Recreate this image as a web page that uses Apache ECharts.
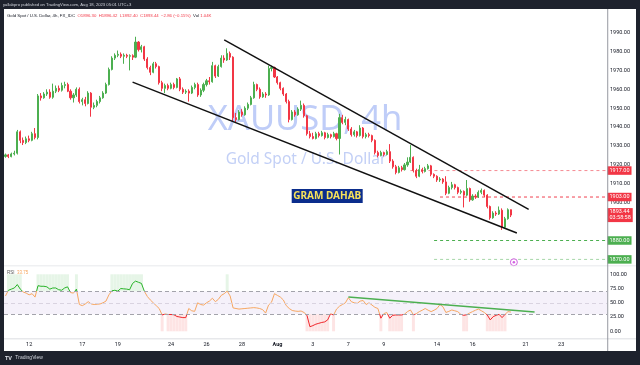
<!DOCTYPE html>
<html><head><meta charset="utf-8">
<script src="https://cdn.jsdelivr.net/npm/echarts/dist/echarts.min.js"></script>
<style>html,body{margin:0;padding:0;background:#fff}#c{width:640px;height:365px}</style>
</head><body><div id="c"></div>
<script>
// ---- data (XAUUSD 4h) ----
const opens=[1924.5,1925.3,1924.4,1925.8,1926.2,1937.5,1933.0,1931.8,1933.8,1933.0,
1936.5,1934.5,1956.5,1955.5,1957.5,1958.5,1955.8,1959.0,1960.5,1959.5,
1962.0,1962.5,1959.0,1955.5,1957.0,1960.0,1953.5,1954.5,1952.5,1958.0,
1950.5,1951.5,1953.5,1955.5,1958.0,1962.5,1970.5,1976.5,1978.0,1978.5,
1977.5,1978.0,1977.5,1977.8,1977.0,1985.0,1981.0,1982.5,1976.0,1971.5,
1969.0,1973.5,1972.0,1963.5,1960.5,1962.0,1960.5,1962.5,1961.0,1965.5,
1960.0,1958.5,1959.0,1958.0,1961.0,1962.5,1957.0,1959.5,1962.5,1964.5,
1964.0,1972.5,1967.0,1972.0,1976.5,1975.5,1979.0,1977.0,1945.0,1944.0,
1948.0,1946.5,1950.0,1952.0,1955.5,1962.5,1960.0,1956.0,1957.5,1957.0,
1971.0,1971.5,1966.5,1963.5,1960.5,1957.5,1953.5,1944.0,1948.0,1946.5,
1949.5,1951.5,1946.0,1936.5,1935.0,1934.0,1936.5,1935.5,1937.0,1934.5,
1936.0,1935.0,1936.5,1934.0,1945.0,1942.5,1944.0,1939.0,1936.0,1937.5,
1935.5,1939.5,1935.0,1936.0,1935.5,1933.0,1926.5,1925.0,1926.5,1925.5,
1927.0,1922.0,1919.0,1916.0,1918.5,1917.5,1920.0,1921.5,1924.0,1917.0,
1914.0,1917.5,1916.5,1918.0,1919.5,1915.0,1914.0,1912.0,1912.5,1911.0,
1905.0,1908.0,1909.5,1908.0,1905.5,1906.0,1904.0,1907.5,1901.5,1903.5,
1903.0,1905.5,1906.5,1904.0,1898.0,1892.0,1894.5,1894.0,1896.0,1887.0,
1891.5,1896.3];
const closes=[1925.3,1924.4,1925.8,1926.2,1937.5,1933.0,1931.8,1933.8,1933.0,1936.5,
1934.5,1956.5,1955.5,1957.5,1958.5,1955.8,1959.0,1960.5,1959.5,1962.0,
1962.5,1959.0,1955.5,1957.0,1960.0,1953.5,1954.5,1952.5,1958.0,1950.5,
1951.5,1953.5,1955.5,1958.0,1962.5,1970.5,1976.5,1978.0,1978.5,1977.5,
1978.0,1977.5,1977.8,1977.0,1985.0,1981.0,1982.5,1976.0,1971.5,1969.0,
1973.5,1972.0,1963.5,1960.5,1962.0,1960.5,1962.5,1961.0,1965.5,1960.0,
1958.5,1959.0,1958.0,1961.0,1962.5,1957.0,1959.5,1962.5,1964.5,1964.0,
1972.5,1967.0,1972.0,1976.5,1975.5,1979.0,1977.0,1945.0,1944.0,1948.0,
1946.5,1950.0,1952.0,1955.5,1962.5,1960.0,1956.0,1957.5,1957.0,1971.0,
1971.5,1966.5,1963.5,1960.5,1957.5,1953.5,1944.0,1948.0,1946.5,1949.5,
1951.5,1946.0,1936.5,1935.0,1934.0,1936.5,1935.5,1937.0,1934.5,1936.0,
1935.0,1936.5,1934.0,1945.0,1942.5,1944.0,1939.0,1936.0,1937.5,1935.5,
1939.5,1935.0,1936.0,1935.5,1933.0,1926.5,1925.0,1926.5,1925.5,1927.0,
1922.0,1919.0,1916.0,1918.5,1917.5,1920.0,1921.5,1924.0,1917.0,1914.0,
1917.5,1916.5,1918.0,1919.5,1915.0,1914.0,1912.0,1912.5,1911.0,1905.0,
1908.0,1909.5,1908.0,1905.5,1906.0,1904.0,1907.5,1901.5,1903.5,1903.0,
1905.5,1906.5,1904.0,1898.0,1892.0,1894.5,1894.0,1896.0,1887.0,1891.5,
1896.3,1893.44];
const lows=[1923.8,1923.6,1924.0,1925.0,1925.5,1931.5,1930.5,1931.0,1932.0,1932.5,
1933.5,1933.5,1954.0,1955.0,1956.5,1955.0,1955.0,1958.0,1958.5,1958.8,
1960.5,1958.5,1954.5,1953.0,1956.0,1952.5,1951.5,1951.0,1952.0,1945.5,
1949.5,1950.5,1952.5,1955.0,1957.5,1962.0,1970.0,1975.5,1977.0,1976.5,
1973.5,1976.5,1970.0,1975.5,1976.5,1980.0,1979.5,1975.0,1970.5,1967.5,
1968.5,1971.0,1962.5,1959.0,1958.0,1959.5,1960.0,1960.0,1960.5,1959.0,
1957.5,1957.5,1953.5,1957.5,1960.0,1956.0,1956.0,1958.5,1961.5,1962.5,
1963.5,1966.0,1966.5,1971.5,1974.0,1975.0,1975.5,1943.0,1942.5,1943.5,
1945.5,1946.0,1949.0,1951.5,1955.0,1959.0,1955.0,1955.5,1955.5,1956.5,
1969.5,1966.0,1962.5,1959.5,1956.5,1952.5,1942.5,1943.5,1945.5,1946.0,
1948.5,1945.0,1935.5,1934.0,1933.5,1933.5,1934.5,1935.0,1933.5,1934.0,
1934.0,1934.5,1933.0,1925.5,1941.5,1941.0,1938.0,1935.0,1935.0,1934.5,
1935.0,1934.0,1934.0,1934.5,1932.0,1925.5,1924.0,1924.5,1924.5,1925.0,
1921.0,1918.0,1915.0,1915.5,1916.5,1917.0,1919.0,1921.0,1916.0,1913.0,
1913.5,1915.5,1916.0,1917.5,1914.0,1913.0,1911.0,1911.0,1910.0,1904.0,
1904.5,1907.0,1907.0,1904.5,1904.5,1897.5,1903.5,1900.5,1901.0,1902.0,
1902.5,1904.5,1903.0,1897.0,1891.0,1891.5,1893.0,1893.5,1885.6,1886.5,
1891.0,1892.4];
const highs=[1926.0,1925.8,1926.5,1927.5,1938.5,1938.2,1934.5,1935.0,1935.5,1937.5,
1939.5,1957.5,1958.0,1958.5,1960.0,1960.0,1963.0,1962.0,1962.0,1963.5,
1964.0,1963.5,1960.0,1958.0,1961.0,1961.0,1955.5,1956.0,1959.0,1958.5,
1953.0,1954.5,1956.5,1959.0,1963.5,1971.5,1977.5,1979.0,1980.5,1979.5,
1979.0,1978.8,1978.5,1978.5,1987.8,1985.5,1983.5,1983.0,1977.0,1972.5,
1974.5,1974.5,1972.5,1964.5,1963.0,1963.0,1963.5,1963.5,1966.0,1966.5,
1961.0,1960.0,1960.0,1962.0,1963.5,1963.5,1960.5,1963.5,1965.5,1966.5,
1974.5,1973.0,1973.0,1978.0,1978.0,1981.7,1980.0,1977.5,1947.5,1949.0,
1949.5,1951.0,1953.0,1956.5,1964.0,1963.0,1961.0,1958.5,1958.5,1972.5,
1972.5,1972.0,1967.0,1964.0,1961.0,1958.0,1954.5,1949.0,1949.0,1950.5,
1954.0,1952.5,1946.5,1938.0,1937.0,1937.5,1937.5,1938.0,1937.5,1937.0,
1936.5,1937.5,1937.0,1947.0,1946.5,1945.5,1944.5,1940.0,1938.5,1938.0,
1941.0,1940.0,1937.0,1937.0,1936.0,1933.5,1927.5,1927.5,1927.0,1928.0,
1931.0,1923.0,1920.0,1919.5,1919.5,1921.0,1924.0,1930.5,1924.5,1918.0,
1920.0,1918.5,1919.0,1920.5,1920.0,1915.5,1914.5,1913.5,1913.0,1914.0,
1909.0,1911.0,1910.0,1908.5,1907.0,1906.5,1912.0,1908.0,1904.5,1904.5,
1906.5,1907.5,1907.0,1904.5,1898.5,1895.5,1895.5,1898.0,1897.0,1892.5,
1897.0,1896.42];
const rsiValues=[62,72,74,76,82,74,69,67,64,66,
60,80,79,79,78,74,76,76,73,72,
76,78,68,67,74,47,45,48,52,48,
47,47.5,48,50,53,64,71,72,70.5,75,
74.5,74,73,84,88,86,84,70,61,55,
50,45,40,28.6,30.5,29.5,29.5,29,26,25,
24,24,40,36,35,50,47,46,50,53,
58,52,56,63,66,70.5,62,41,40,39,
39.5,40,40.5,41,41.5,41,40,38,32,46,
51,66,63,60,55,45,40,36.5,35.5,35,
35.6,33,28,8,10,12.5,14,15.5,16.5,20,
31,28.6,39,44,47,50,59,52,50,49,
53,54,47,50,46,42,40,23,31,33,
23,28,28.6,28.6,28.6,30,34.5,37.4,29,31,
34.5,37,40,37,34.5,37,40,47,43,33,
35,37.4,36,34.5,30,28,29,32,34.5,37,
39,36,33,28.6,20,25.7,28,29.7,24,29.7,
34.5,33.75];
const futureBars=32;
const dayTickLabels=['12','17','19','24','26','28','Aug','3','7','9','14','16','21','23'];
const dayTickOffsets=[0,3,5,8,10,12,14,16,18,20,23,25,28,30];
const firstTickBar=8, barsPerDay=6;
const upperTrend=[[74,1986.2],[177,1896.5]];
const lowerTrend=[[43,1963.8],[173,1884.0]];
const rsiTrend=[[116,60.2],[179,33.9]];
const rayLevels=[1917,1903,1880,1870];
const rayStartBars=[137,147,145,145];
const eventMarker=[172,1868.5];
const countdownText='03:58:58';
const volumeText='1.04K';
const rsiLevels=[70,50,30];

// ---- build ----
const N=opens.length, total=N+futureBars, last=N-1;
const cats=Array.from({length:total},(_,i)=>'b'+i);
const tickMap={};
dayTickOffsets.forEach((d,k)=>{tickMap[firstTickBar+d*barsPerDay]=dayTickLabels[k];});
const candles=opens.map((o,i)=>[o,closes[i],lows[i],highs[i]]);
const chg=closes[last]-closes[last-1];
const pct=chg/closes[last-1]*100;
const fmtS=v=>(v<0?'\u2212':'+')+Math.abs(v).toFixed(2);

const rayLine=['#f58a93','#f0404f','#4caf50','#a5d6a7'];
const rayBox=['#f23645','#f23645','#4caf50','#4caf50'];
const axisFont={fontSize:5.5,color:'#131722',fontFamily:'Roboto, "Noto Sans", sans-serif'};
const clear='rgba(0,0,0,0)';

// price-scale boxes (labels only; the lines themselves are drawn as series below)
const priceLabels=rayLevels.map((lv,k)=>[
 {coord:[rayStartBars[k],lv],lineStyle:{color:clear,width:1},
  label:{show:true,position:'end',distance:2,formatter:lv.toFixed(2),backgroundColor:rayBox[k],color:'#fff',fontSize:5.5,padding:[1.5,2,1,2],fontFamily:'Roboto, sans-serif'}},
 {coord:[total-1,lv]}]);
priceLabels.push([
 {coord:[last,closes[last]],lineStyle:{color:clear,width:1},
  label:{show:true,position:'end',distance:2,formatter:closes[last].toFixed(2)+'\n'+countdownText,backgroundColor:'#f23645',color:'#fff',fontSize:5.5,lineHeight:6,padding:[1,2,1,2],fontFamily:'Roboto, sans-serif'}},
 {coord:[total-1,closes[last]]}]);

const raySeries=rayLevels.map((lv,k)=>({
 type:'line',xAxisIndex:0,yAxisIndex:0,symbol:'none',silent:true,z:3,
 data:[[rayStartBars[k],lv],[total-1,lv]],
 lineStyle:{color:rayLine[k],type:[3,3],width:1}}));

const zoneBase=rsiValues.map(v=>v>70?70:(v<30?0:'-'));
const zoneTop=rsiValues.map(v=>v>70?{value:30,itemStyle:{color:'#e6f5e7'}}:(v<30?{value:30,itemStyle:{color:'#fde4e4'}}:'-'));

const chart=echarts.init(document.getElementById('c'),null,{width:640,height:365});
chart.setOption({
 animation:false,
 backgroundColor:'#ffffff',
 textStyle:{fontFamily:'Roboto, "Noto Sans", sans-serif'},
 grid:[
  {left:4,right:33,top:-5.2,height:283.5,outerBoundsMode:'none'},
  {left:4,right:33,top:274.3,height:57,outerBoundsMode:'none'}
 ],
 xAxis:[
  {type:'category',gridIndex:0,data:cats,boundaryGap:true,axisLine:{show:false},axisTick:{show:false},axisLabel:{show:false},splitLine:{show:false}},
  {type:'category',gridIndex:1,data:cats,boundaryGap:true,offset:7.7,axisLine:{show:false},axisTick:{show:false},splitLine:{show:false},
   axisLabel:Object.assign({},axisFont,{margin:3,interval:(idx)=>tickMap[idx]!==undefined,
    formatter:(v,idx)=>{const t=tickMap[idx]||'';return t==='Aug'?'{b|Aug}':t;},
    rich:{b:{fontWeight:'bold',fontSize:5.5,color:'#131722'}}})}
 ],
 yAxis:[
  {type:'value',gridIndex:0,position:'right',min:1860,max:2010,interval:10,axisLine:{show:false},axisTick:{show:false},splitLine:{show:false},
   axisLabel:Object.assign({},axisFont,{margin:3,formatter:v=>(v>=1900&&v<=1990)?v.toFixed(2):''})},
  {type:'value',gridIndex:1,position:'right',min:0,max:100,interval:25,axisLine:{show:false},axisTick:{show:false},splitLine:{show:false},
   axisLabel:Object.assign({},axisFont,{margin:3,formatter:v=>v.toFixed(2)})}
 ],
 visualMap:{show:false,type:'piecewise',seriesIndex:6,dimension:1,
  pieces:[{lt:30,color:'#f0262b'},{gte:30,lte:70,color:'#f6a660'},{gt:70,color:'#27b327'}]},
 series:[
  {type:'candlestick',xAxisIndex:0,yAxisIndex:0,data:candles,barWidth:1.6,z:4,
   itemStyle:{color:'#4caf50',color0:'#f23645',borderColor:'#4caf50',borderColor0:'#f23645',borderWidth:1},
   markLine:{symbol:['none','none'],silent:true,animation:false,z:10,data:priceLabels}},
  {type:'line',xAxisIndex:0,yAxisIndex:0,data:upperTrend,symbol:'none',lineStyle:{color:'#111',width:1.5},z:5},
  {type:'line',xAxisIndex:0,yAxisIndex:0,data:lowerTrend,symbol:'none',lineStyle:{color:'#111',width:1.5},z:5},
  {type:'scatter',xAxisIndex:0,yAxisIndex:0,z:6,data:[
    {value:eventMarker,symbol:'circle',symbolSize:7,itemStyle:{color:'#fff',borderColor:'#c53ad9',borderWidth:1}},
    {value:eventMarker,symbol:'circle',symbolSize:2.5,itemStyle:{color:'#c53ad9'}}]},
  {type:'bar',xAxisIndex:1,yAxisIndex:1,stack:'zone',barWidth:'100%',barCategoryGap:'0%',data:zoneBase,silent:true,
   itemStyle:{color:clear},
   markArea:{silent:true,itemStyle:{color:'#f5f1fa'},data:[[{yAxis:30},{yAxis:70}]]},
   markLine:{symbol:['none','none'],silent:true,label:{show:false},data:rsiLevels.map(v=>({yAxis:v,lineStyle:{color:v===50?'#d9d3e0':'#a3a3ab',type:[4,3],width:1}}))}},
  {type:'bar',xAxisIndex:1,yAxisIndex:1,stack:'zone',barWidth:'100%',barCategoryGap:'0%',data:zoneTop,silent:true},
  {type:'line',xAxisIndex:1,yAxisIndex:1,data:rsiValues,symbol:'none',showSymbol:false,lineStyle:{width:1},z:4},
  {type:'line',xAxisIndex:1,yAxisIndex:1,data:rsiTrend,symbol:'none',lineStyle:{color:'#4caf50',width:1.5},z:5}
 ].concat(raySeries),
 graphic:[
  {type:'text',x:305,y:120,z:0,silent:true,style:{text:'XAUUSD, 4h',fill:'#bfcdf8',fontSize:34.5,fontFamily:'"Noto Sans", sans-serif',textAlign:'center',textVerticalAlign:'middle',align:'center',verticalAlign:'middle'}},
  {type:'text',x:306,y:160,z:0,silent:true,style:{text:'Gold Spot / U.S. Dollar',fill:'#c3d0f6',fontSize:15.5,fontFamily:'"Noto Sans", sans-serif',textAlign:'center',textVerticalAlign:'middle',align:'center',verticalAlign:'middle'}},
  {type:'rect',z:50,silent:true,shape:{x:291.7,y:189,width:71,height:14},style:{fill:'#0b2d8c'}},
  {type:'text',x:327.2,y:196.3,z:51,silent:true,style:{text:'GRAM DAHAB',fill:'#f6e25a',fontSize:10,fontWeight:'bold',fontFamily:'"Noto Sans", sans-serif',textAlign:'center',textVerticalAlign:'middle',align:'center',verticalAlign:'middle'}},
  {type:'text',x:7,y:16,z:50,silent:true,style:{
    text:'{g|Gold Spot / U.S. Dollar, 4h, FX_IDC}  {r|O'+opens[last].toFixed(2)+'  H'+highs[last].toFixed(2)+'  L'+lows[last].toFixed(2)+'  C'+closes[last].toFixed(2)+'  '+fmtS(chg)+' ('+fmtS(pct)+'%)}  {g|Vol} {r|'+volumeText+'}',
    fontSize:4.3,textVerticalAlign:'middle',verticalAlign:'middle',
    rich:{g:{fill:'#131722',color:'#131722',fontSize:4.3},r:{fill:'#f23645',color:'#f23645',fontSize:4.3}}}},
  {type:'text',x:7,y:272.5,z:50,silent:true,style:{
    text:'{g|RSI}  {o|'+rsiValues[last].toFixed(2)+'}',fontSize:4.5,textVerticalAlign:'middle',verticalAlign:'middle',
    rich:{g:{fill:'#555',color:'#555',fontSize:4.5},o:{fill:'#f6a660',color:'#f6a660',fontSize:4.5}}}},
  {type:'rect',z:60,silent:true,shape:{x:4,y:265.5,width:632,height:0.8},style:{fill:'#dfe1e6'}},
  {type:'rect',z:60,silent:true,shape:{x:4,y:338.5,width:632,height:0.8},style:{fill:'#cfd2d8'}},
  {type:'rect',z:60,silent:true,shape:{x:607.3,y:9,width:0.9,height:342},style:{fill:'#8a8d96'}},
  {type:'rect',z:100,silent:true,shape:{x:0,y:0,width:640,height:9},style:{fill:'#1e222d'}},
  {type:'rect',z:100,silent:true,shape:{x:0,y:0,width:4,height:365},style:{fill:'#1e222d'}},
  {type:'rect',z:100,silent:true,shape:{x:636,y:0,width:4,height:365},style:{fill:'#1e222d'}},
  {type:'rect',z:100,silent:true,shape:{x:0,y:351,width:640,height:14},style:{fill:'#1e222d'}},
  {type:'text',x:3,y:4.5,z:101,silent:true,style:{text:'yallabpro published on TradingView.com, Aug 18, 2023 05:01 UTC+3',fill:'#d1d4dc',fontSize:4.2,textVerticalAlign:'middle',verticalAlign:'middle'}},
  {type:'text',x:5,y:358,z:101,silent:true,style:{text:'{l|TV} {t|TradingView}',textVerticalAlign:'middle',verticalAlign:'middle',
    rich:{l:{fill:'#e0e3eb',color:'#e0e3eb',fontSize:5.5,fontWeight:'bold'},t:{fill:'#d1d4dc',color:'#d1d4dc',fontSize:5}}}}
 ]
});
</script>
</body></html>
